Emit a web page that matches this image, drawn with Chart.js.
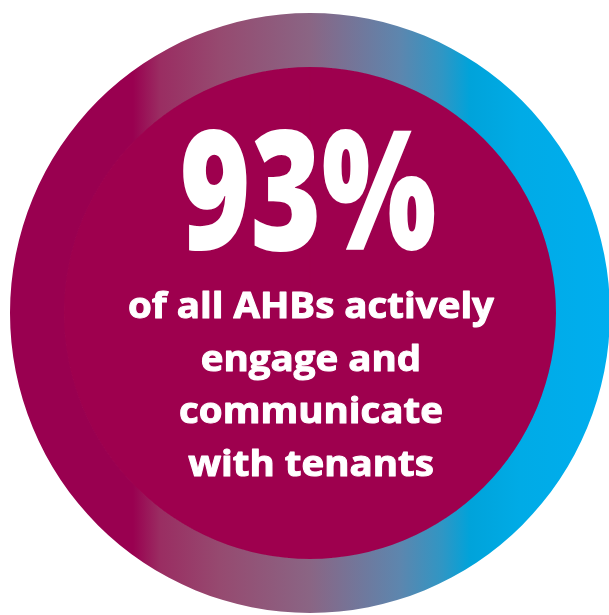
<!DOCTYPE html>
<html>
<head>
<meta charset="utf-8">
<script src="https://cdn.jsdelivr.net/npm/chart.js@4/dist/chart.umd.min.js"></script>
<style>
  html, body { margin: 0; padding: 0; background: #fff; overflow: hidden; }
  #wrap { position: relative; width: 620px; height: 615px; }
</style>
</head>
<body>
<div id="wrap"><canvas id="myChart"></canvas></div>
<script>
// share of AHBs, shown as the headline figure
var shareValue = 93;
var headline = shareValue + '%';
var captionLines = ['of all AHBs actively', 'engage and', 'communicate', 'with tenants'];

// outer ring and inner disc are full circles, sized by weight
var ringValues = [100];
var discValues = [100];

var colours = {
    disc: '#9e004e',
    white: '#ffffff'
};

function ringGradient(context) {
    var chart = context.chart;
    var area = chart.chartArea;
    if (!area) return '#990050';
    var g = chart.ctx.createLinearGradient(area.left, 0, area.right, 0);
    g.addColorStop(0, '#990050');
    g.addColorStop(0.205, '#990050');
    g.addColorStop(0.25, '#9a2d62');
    g.addColorStop(0.35, '#964a70');
    g.addColorStop(0.5, '#8a6584');
    g.addColorStop(0.65, '#5d86ae');
    g.addColorStop(0.72, '#3096c4');
    g.addColorStop(0.767, '#00a3da');
    g.addColorStop(0.85, '#00abe6');
    g.addColorStop(1, '#00aeef');
    return g;
}

// draws a line centred on cx, squeezed horizontally by sx
function squeezedText(ctx, text, cx, y, sx, stroke) {
    ctx.save();
    ctx.translate(cx, y);
    ctx.scale(sx, 1);
    if (stroke) {
        ctx.lineWidth = stroke;
        ctx.lineJoin = 'round';
        ctx.strokeText(text, 0, 0);
    }
    ctx.fillText(text, 0, 0);
    ctx.restore();
}

var labelPlugin = {
    id: 'centreLabel',
    afterDraw: function(chart) {
        var ctx = chart.ctx;
        var meta = chart.getDatasetMeta(0).data[0];
        var cx = meta.x, cy = meta.y;
        ctx.save();
        ctx.fillStyle = colours.white;
        ctx.strokeStyle = colours.white;
        ctx.textAlign = 'center';
        ctx.textBaseline = 'alphabetic';

        ctx.font = '800 166px "Open Sans"';
        var w = ctx.measureText(headline).width;
        squeezedText(ctx, headline, cx - 2, cy - 63, 257 / w, 0);

        ctx.font = 'bold 35px "Open Sans"';
        var sx = 366 / ctx.measureText(captionLines[0]).width;
        for (var i = 0; i < captionLines.length; i++) {
            squeezedText(ctx, captionLines[i], cx + 1, cy + 5 + i * 52.5, sx, 1);
        }
        ctx.restore();
    }
};

function renderChart() {
    var ctx = document.getElementById('myChart').getContext('2d');
    var myChart = new Chart(ctx, {
        type: 'pie',
        data: {
            labels: ['AHBs'],
            datasets: [{
                data: ringValues,
                backgroundColor: ringGradient,
                borderWidth: 0,
                weight: 54
            }, {
                data: discValues,
                backgroundColor: colours.disc,
                borderColor: colours.disc,
                borderWidth: 1.5,
                weight: 246
            }]
        },
        options: {
            responsive: true,
            maintainAspectRatio: false,
            animation: false,
            events: [],
            layout: { padding: { left: 10, right: 10, top: 13, bottom: 2 } },
            plugins: {
                legend: { display: false },
                tooltip: { enabled: false }
            }
        },
        plugins: [labelPlugin]
    });
}

Promise.all([
    document.fonts.load('bold 40px "Open Sans"'),
    document.fonts.load('800 40px "Open Sans"')
]).then(renderChart, renderChart);
</script>
</body>
</html>
